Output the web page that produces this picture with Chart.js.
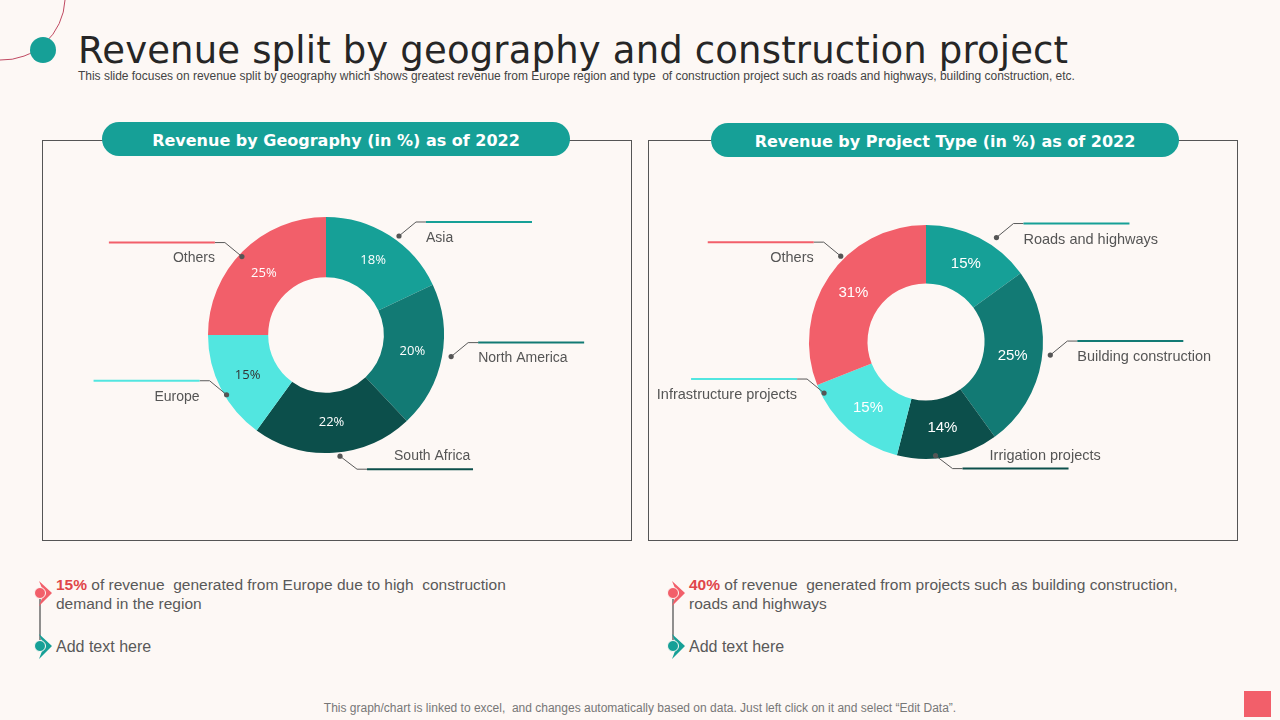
<!DOCTYPE html>
<html>
<head>
<meta charset="utf-8">
<script src="https://cdn.jsdelivr.net/npm/chart.js@4.4.0/dist/chart.umd.min.js"></script>
<style>
  html, body { margin: 0; padding: 0; }
  body { width: 1280px; height: 720px; background: #fdf8f5; position: relative; overflow: hidden; font-family: "Liberation Sans", Arial, sans-serif; }
  .abs { position: absolute; }
  #title { left: 78px; top: 29px; font-family: "DejaVu Sans", Verdana, sans-serif; font-size: 37px; color: #262626; white-space: nowrap; letter-spacing: 0.16px; }
  #subtitle { left: 78px; top: 69px; font-size: 12px; color: #444; white-space: nowrap; letter-spacing: -0.02px; }
  .box { border: 1px solid #555; width: 588px; height: 399px; top: 140px; }
  .pill { height: 34px; border-radius: 17px; background: #16a097; color: #fff; font-family: "DejaVu Sans", Verdana, sans-serif; font-weight: bold; font-size: 16px; line-height: 37px; text-align: center; }
  .note { font-size: 15.5px; color: #595959; line-height: 19px; white-space: nowrap; }
  .note b { color: #e0464a; }
  #footer { left: 0; width: 1280px; top: 701px; text-align: center; font-size: 12px; color: #777; }
</style>
</head>
<body>
<svg class="abs" style="left:0;top:0" width="1280" height="720">
  <path d="M 65 0 A 63 63 0 0 1 0 60" fill="none" stroke="#c04a62" stroke-width="1"/>
  <circle cx="43" cy="50" r="13" fill="#16a097"/>
  <!-- bullets left -->
  <line x1="40" y1="596" x2="40" y2="642" stroke="#555" stroke-width="1.3"/>
  <polygon points="39,581 52,593 39,606 44,593" fill="#f25f6a"/>
  <circle cx="40" cy="593" r="5.5" fill="#f25f6a" stroke="#fdf8f5" stroke-width="1"/>
  <polygon points="39,634 52,646 39,659 44,646" fill="#16a097"/>
  <circle cx="40" cy="646" r="5.5" fill="#16a097" stroke="#fdf8f5" stroke-width="1"/>
  <!-- bullets right -->
  <line x1="673" y1="596" x2="673" y2="642" stroke="#555" stroke-width="1.3"/>
  <polygon points="672,581 685,593 672,606 677,593" fill="#f25f6a"/>
  <circle cx="673" cy="593" r="5.5" fill="#f25f6a" stroke="#fdf8f5" stroke-width="1"/>
  <polygon points="672,634 685,646 672,659 677,646" fill="#16a097"/>
  <circle cx="673" cy="646" r="5.5" fill="#16a097" stroke="#fdf8f5" stroke-width="1"/>
  <rect x="1244" y="691" width="27" height="26" fill="#f25f6a"/>
</svg>

<div id="title" class="abs">Revenue split by geography and construction project</div>
<div id="subtitle" class="abs">This slide focuses on revenue split by geography which shows greatest revenue from Europe region and type&nbsp; of construction project such as roads and highways, building construction, etc.</div>

<div class="abs box" style="left:42px"></div>
<div class="abs box" style="left:648px"></div>

<canvas id="geoChart" class="abs" style="left:42px;top:140px" width="589" height="400"></canvas>
<canvas id="projectChart" class="abs" style="left:648px;top:140px" width="589" height="400"></canvas>

<div class="abs pill" style="left:102px;top:122px;width:468px">Revenue by Geography (in %) as of 2022</div>
<div class="abs pill" style="left:711px;top:123px;width:468px">Revenue by Project Type (in %) as of 2022</div>

<div class="abs note" style="left:56px;top:575px"><b>15%</b> of revenue&nbsp; generated from Europe due to high&nbsp; construction<br>demand in the region</div>
<div class="abs note" style="left:56px;top:637px;font-size:16px">Add text here</div>
<div class="abs note" style="left:689px;top:575px"><b>40%</b> of revenue&nbsp; generated from projects such as building construction,<br>roads and highways</div>
<div class="abs note" style="left:689px;top:637px;font-size:16px">Add text here</div>

<div id="footer" class="abs">This graph/chart is linked to excel,&nbsp; and changes automatically based on data. Just left click on it and select “Edit Data”.</div>

<script>
// Revenue by geography (%)
var geoLabels = ["Asia", "North America", "South Africa", "Europe", "Others"];
var geoValues = [18, 20, 22, 15, 25];

// Revenue by project type (%)
var projectLabels = ["Roads and highways", "Building construction", "Irrigation projects", "Infrastructure projects", "Others"];
var projectValues = [15, 25, 14, 15, 31];

var sliceColors = ["#16a097", "#127a74", "#0c4f4b", "#52e6e0", "#f25f6a"];

// percent labels inside slices + callouts with leader lines
var calloutPlugin = {
    id: 'callouts',
    afterDatasetsDraw: function (chart, args, opts) {
        var ctx = chart.ctx;
        var ds = chart.data.datasets[0];
        var meta = chart.getDatasetMeta(0);
        ctx.save();
        meta.data.forEach(function (arc, i) {
            var p = arc.getProps(['x', 'y', 'startAngle', 'endAngle', 'outerRadius'], true);
            // value inside slice
            var tp = arc.tooltipPosition(true);
            ctx.font = opts.pctFont;
            ctx.fillStyle = opts.pctColors[i];
            ctx.textAlign = 'center';
            ctx.textBaseline = 'middle';
            ctx.fillText(ds.data[i] + '%', tp.x, tp.y);

            // callout anchor: [angle tweak in degrees, radial offset]
            var adj = opts.anchor[i] || [0, 3];
            var mid = (p.startAngle + p.endAngle) / 2 + adj[0] * Math.PI / 180;
            var r = p.outerRadius + adj[1];
            var dx = p.x + Math.cos(mid) * r, dy = p.y + Math.sin(mid) * r;
            var sx = Math.cos(mid) >= 0 ? 1 : -1;
            var down = Math.sin(mid) > 0.9;
            var cx = dx + sx * 17, cy = dy + (down ? 13 : -14);

            ctx.strokeStyle = '#595959';
            ctx.lineWidth = 1;
            ctx.beginPath();
            ctx.moveTo(dx, dy);
            ctx.lineTo(cx, cy);
            ctx.lineTo(cx + sx * 10, cy);
            ctx.stroke();
            ctx.strokeStyle = ds.backgroundColor[i];
            ctx.lineWidth = 2;
            ctx.beginPath();
            ctx.moveTo(cx + sx * 10, cy);
            ctx.lineTo(cx + sx * 116, cy);
            ctx.stroke();
            ctx.fillStyle = '#555';
            ctx.beginPath();
            ctx.arc(dx, dy, 2.6, 0, Math.PI * 2);
            ctx.fill();

            ctx.font = opts.labelFont;
            ctx.fillStyle = '#555';
            if (down) {
                ctx.textAlign = 'left';
                ctx.fillText(chart.data.labels[i], cx + 37, cy - 13);
            } else {
                ctx.textAlign = sx > 0 ? 'left' : 'right';
                ctx.fillText(chart.data.labels[i], cx + sx * 10, cy + 16);
            }
        });
        ctx.restore();
    }
};

var geoContext = document.getElementById("geoChart").getContext("2d");
var geoChart = new Chart(geoContext, {
    type: 'doughnut',
    data: {
        labels: geoLabels,
        datasets: [{ data: geoValues, backgroundColor: sliceColors, borderWidth: 0 }]
    },
    options: {
        responsive: false,
        animation: false,
        cutout: '49%',
        layout: { padding: { left: 166, right: 187, top: 77, bottom: 87 } },
        plugins: {
            legend: { display: false },
            tooltip: { enabled: false },
            callouts: {
                pctFont: '13px "Open Sans"',
                labelFont: '14px "Liberation Sans"',
                pctColors: ["#fff", "#fff", "#fff", "#333", "#fff"],
                anchor: [[4, 5], [-1, 9], [-3, 4], [-4, -2], [-2, -3]]
            }
        }
    },
    plugins: [calloutPlugin]
});

var projectContext = document.getElementById("projectChart").getContext("2d");
var projectChart = new Chart(projectContext, {
    type: 'doughnut',
    data: {
        labels: projectLabels,
        datasets: [{ data: projectValues, backgroundColor: sliceColors, borderWidth: 0 }]
    },
    options: {
        responsive: false,
        animation: false,
        cutout: '50%',
        layout: { padding: { left: 161, right: 194, top: 85, bottom: 81 } },
        plugins: {
            legend: { display: false },
            tooltip: { enabled: false },
            callouts: {
                pctFont: '15px "Liberation Sans"',
                labelFont: '14.5px "Liberation Sans"',
                pctColors: ["#fff", "#fff", "#fff", "#fff", "#fff"],
                anchor: [[7, 9], [-3, 8], [6, -3], [22, -3], [11, 4]]
            }
        }
    },
    plugins: [calloutPlugin]
});
</script>
</body>
</html>
